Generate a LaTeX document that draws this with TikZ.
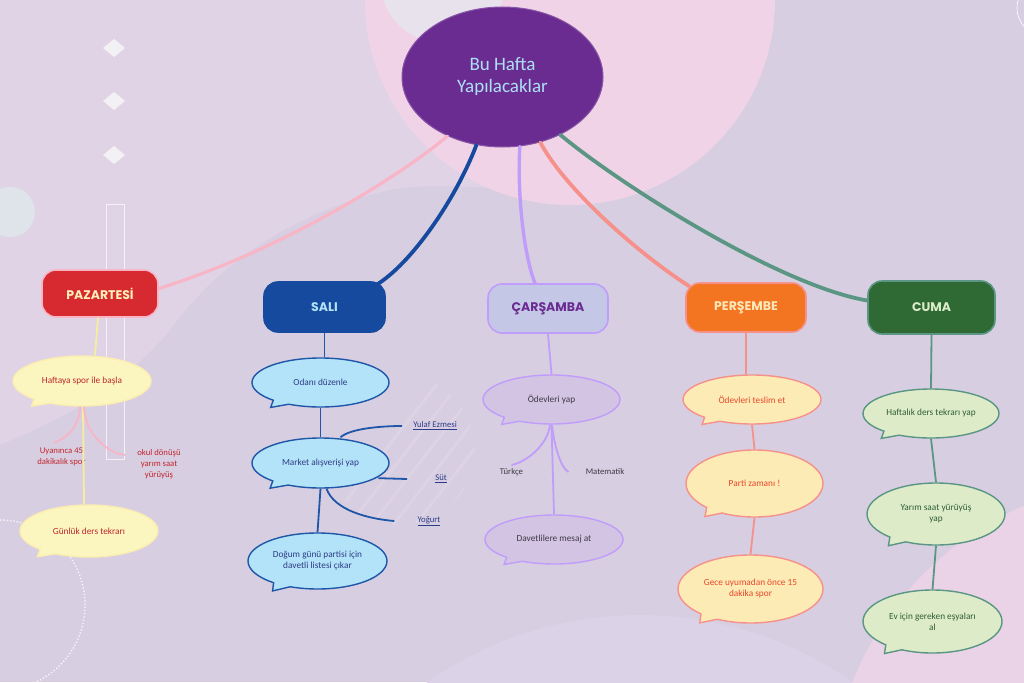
\documentclass[tikz,border=0pt]{standalone}
\usepackage{fontspec}
\setmainfont{Carlito}
\newfontfamily\dayfont{Poppins}
\usetikzlibrary{shapes.callouts,shapes.geometric}
\definecolor{bgbase}{HTML}{D8CEE1}
\definecolor{bglight}{HTML}{E0D3E6}
\definecolor{bgpink}{HTML}{F1D3E7}
\definecolor{bgpink2}{HTML}{EBD3E7}
\definecolor{bgwhite}{HTML}{E8E2EC}
\definecolor{bglow}{HTML}{DCD2E7}
\definecolor{bgteal}{HTML}{DEE4EA}
\definecolor{deco}{HTML}{F4F1F5}
\definecolor{cpurple}{HTML}{6A2C91}
\definecolor{ctitle}{HTML}{AEE0F5}
\definecolor{pzfill}{HTML}{D62A30}
\definecolor{pzline}{HTML}{F7B5C6}
\definecolor{pztext}{HTML}{FCEFB8}
\definecolor{pzbub}{HTML}{FBF6BF}
\definecolor{pzyel}{HTML}{F6EE9C}
\definecolor{pzred}{HTML}{C0262D}
\definecolor{slfill}{HTML}{164A9E}
\definecolor{sltext}{HTML}{B4E3F8}
\definecolor{slbub}{HTML}{B3E3F8}
\definecolor{slline}{HTML}{1E56A8}
\definecolor{slink}{HTML}{2D3C88}
\definecolor{crfill}{HTML}{C5C7E6}
\definecolor{crline}{HTML}{C09CFB}
\definecolor{crbub}{HTML}{D3C4E3}
\definecolor{crink}{HTML}{3E3A46}
\definecolor{crtext}{HTML}{6A2C91}
\definecolor{psfill}{HTML}{F37421}
\definecolor{psline}{HTML}{F5918A}
\definecolor{pstext}{HTML}{FCE8B8}
\definecolor{psbub}{HTML}{FDEBB6}
\definecolor{psink}{HTML}{E8472A}
\definecolor{cmfill}{HTML}{2F6A35}
\definecolor{cmline}{HTML}{5A9683}
\definecolor{cmtext}{HTML}{DCEBC9}
\definecolor{cmbub}{HTML}{DDEBC9}
\definecolor{cmink}{HTML}{2F5E36}
\tikzset{
  title/.style={ellipse, fill=cpurple, draw=cpurple!80!white, line width=1pt,
    minimum width=201pt, minimum height=140pt, inner sep=0pt, align=center,
    text=ctitle, font=\fontsize{19}{22}\selectfont},
  daybox/.style={rectangle, rounded corners=14pt, minimum width=120pt, minimum height=49pt,
    line width=1.6pt, inner sep=0pt, font=\dayfont\bfseries\fontsize{12.5}{14}\selectfont},
  bub/.style={ellipse callout, minimum width=137pt, minimum height=49pt, inner sep=0pt,
    line width=1.4pt, align=center, font=\fontsize{9.3}{11}\selectfont,
    callout pointer arc=16, callout relative pointer={(-10pt,-5pt)}},
  tallbub/.style={callout relative pointer={(-9pt,-6pt)}},
  sub/.style={inner sep=2pt, align=center, font=\fontsize{8.7}{11}\selectfont},
  mainline/.style={line width=3.8pt, line cap=round},
  subline/.style={line width=1.8pt},
}
\begin{document}
\begin{tikzpicture}[x=1pt,y=-1pt]
\useasboundingbox (0,0) rectangle (1024,682);
% ---------- background ----------
\begin{scope}
\clip (0,0) rectangle (1024,682);
\fill[bgbase] (0,0) rectangle (1024,682);
\fill[bglight] (0,0) -- (620,0) -- (620,195) .. controls (520,192) and (440,180) .. (390,190)
  .. controls (300,210) and (220,260) .. (170,330) .. controls (120,390) and (60,420) .. (0,445)
  -- cycle;
\fill[bgpink] (570,0) circle (205pt);
\fill[bgwhite] (443,-20) circle (63pt);
\fill[bglow] (640,985) circle (370pt);
\fill[bgpink2] (1150,800) circle (320pt);
\fill[bgteal] (10,212) circle (25pt);
\draw[white, line width=0.6pt] (1045,8) circle (28pt);
\begin{scope}
\clip (400,450) circle (75pt);
\foreach \k in {0,...,9}{
  \draw[white, opacity=0.12, line width=3pt] (300+\k*22,560) -- (440+\k*22,380);
}
\end{scope}
\draw[white, dotted, line width=1.3pt, opacity=0.85] (0,605) circle (85pt);
\fill[deco] (114,39) -- (125,48) -- (114,57) -- (103,48) -- cycle;
\fill[deco] (114,92) -- (125,101) -- (114,110) -- (103,101) -- cycle;
\fill[deco] (114,146) -- (125,155) -- (114,164) -- (103,155) -- cycle;
\draw[white, opacity=0.7, line width=0.7pt] (106,204) rectangle (124,459);
\end{scope}
% ---------- nodes ----------
\node[title] (c) at (502.5,77) {Bu Hafta\\Yapılacaklar};

\node[daybox, fill=pzfill, draw=pzline, text=pztext, minimum width=116pt, minimum height=47pt] (paz) at (100,293.5) {PAZARTESİ};
\node[daybox, fill=slfill, draw=slfill, text=sltext, minimum width=121pt, minimum height=50pt] (sali) at (324.5,307) {SALI};
\node[daybox, fill=crfill, draw=crline, text=crtext, minimum width=120pt, minimum height=49pt] (car) at (548,308.5) {ÇARŞAMBA};
\node[daybox, fill=psfill, draw=psline, text=pstext, minimum width=120pt, minimum height=49pt] (per) at (746,307.5) {PERŞEMBE};
\node[daybox, fill=cmfill, draw=cmline, text=cmtext, minimum width=127pt, minimum height=53pt] (cuma) at (931.5,307.5) {CUMA};

% Pazartesi
\node[bub, fill=pzbub, draw=pzbub!92!orange, text=pzred, minimum width=138pt, minimum height=50pt] (haf) at (82,381) {Haftaya spor ile başla};
\node[bub, fill=pzbub, draw=pzbub!92!orange, text=pzred, minimum width=138pt, minimum height=52pt] (gun) at (89,531) {Günlük ders tekrarı};
\node[sub, text=pzred] (uy) at (61.5,457) {Uyanınca 45\\dakikalık spor};
\node[sub, text=pzred] (ok) at (159,464) {okul dönüşü\\yarım saat\\yürüyüş};

% Sali
\node[bub, fill=slbub, draw=slline, text=slink] (oda) at (320.5,382.5) {Odanı düzenle};
\node[bub, fill=slbub, draw=slline, text=slink, minimum height=50pt] (mkt) at (320.5,463) {Market alışverişi yap};
\node[bub, fill=slbub, draw=slline, text=slink, minimum width=139pt, minimum height=56pt, tallbub] (dog) at (317.5,561) {Doğum günü partisi için\\davetli listesi çıkar};
\node[sub, text=slink] (yulaf) at (435,426) {\underline{Yulaf Ezmesi}};
\node[sub, text=slink] (sut) at (441,479) {\underline{Süt}};
\node[sub, text=slink] (yog) at (429,521) {\underline{Yoğurt}};

% Carsamba
\node[bub, fill=crbub, draw=crline, text=crink] (ode) at (551.5,399.5) {Ödevleri yap};
\node[bub, fill=crbub, draw=crline, text=crink, minimum width=138pt] (dav) at (554,539.5) {Davetlilere mesaj at};
\node[sub, text=crink] (tur) at (511.5,472) {Türkçe};
\node[sub, text=crink] (mat) at (605,472) {Matematik};

% Persembe
\node[bub, fill=psbub, draw=psline, text=psink, minimum width=138pt] (tes) at (752,399.5) {Ödevleri teslim et};
\node[bub, fill=psbub, draw=psline, text=psink, minimum height=67pt, tallbub] (par) at (754.5,483.5) {\raisebox{-7pt}{Parti zamanı !}};
\node[bub, fill=psbub, draw=psline, text=psink, minimum width=145pt, minimum height=68pt, tallbub] (gec) at (750.5,589) {Gece uyumadan önce 15\\dakika spor};

% Cuma
\node[bub, fill=cmbub, draw=cmline, text=cmink, minimum width=136pt] (hft) at (931,413.5) {Haftalık ders tekrarı yap};
\node[bub, fill=cmbub, draw=cmline, text=cmink, minimum width=138pt, minimum height=62pt, tallbub] (yar) at (936,514) {Yarım saat yürüyüş\\yap};
\node[bub, fill=cmbub, draw=cmline, text=cmink, minimum width=139pt, minimum height=63pt, tallbub] (ev) at (932.5,621.5) {Ev için gereken eşyaları\\al};

% ---------- main connectors ----------
\draw[mainline, pzline, line width=3.2pt] (c.227) .. controls +(-47,40) and +(122,-38) .. ([yshift=5pt]paz.east);
\draw[mainline, slfill] (c.249) .. controls +(-21,55) and +(35,-21) .. ([xshift=-10pt,yshift=-4pt]sali.north east);
\draw[mainline, crline, line width=3.4pt] (c.284) .. controls +(-3,52) and +(-10,-24) .. ([xshift=-13pt]car.north);
\draw[mainline, psline] (c.300) .. controls +(25,47) and +(-50,-32) .. ([xshift=4pt,yshift=-4pt]per.north west);
\draw[mainline, cmline] (c.315) .. controls +(60,50) and +(-88,-15) .. ([yshift=7pt]cuma.west);

% ---------- sub connectors ----------
\draw[subline, pzyel] ([xshift=-2pt]paz.south) -- ([xshift=13pt]haf.north);
\draw[subline, pzyel] ([xshift=1pt]haf.south) -- ([xshift=-5pt]gun.north);
\draw[subline, pzline] ([xshift=-2pt]haf.south) .. controls +(0,18) and +(14,-4) .. ([xshift=-8pt,yshift=3pt]uy.north);
\draw[subline, pzline] ([xshift=2pt]haf.south) .. controls +(0,24) and +(-20,-2) .. ([xshift=-10pt,yshift=-8pt]ok.north west);

\draw[subline, slline] (sali.south) -- (sali.south |- oda.north);
\draw[subline, slline] (oda.south) -- (mkt.north);
\draw[subline, slline] (mkt.south) -- (dog.north);
\draw[subline, slline] ([xshift=20pt]mkt.north) .. controls +(10,-9) and +(-20,0) .. ([xshift=-9pt]yulaf.west);
\draw[subline, slline] ([xshift=9pt,yshift=3pt]mkt.south east) -- ([xshift=-26pt]sut.west);
\draw[subline, slline] ([xshift=6pt]mkt.south) .. controls +(8,22) and +(-25,-2) .. ([xshift=-21pt]yog.west);

\draw[subline, crline] (car.south) -- (ode.north);
\draw[subline, crline] (ode.south) -- (dav.north);
\draw[subline, crline] ([xshift=-1.5pt]ode.south) .. controls +(-2,20) and +(15,-3) .. ([yshift=1pt]tur.north);
\draw[subline, crline] ([xshift=0.5pt]ode.south) .. controls +(2,20) and +(-8,-4) .. ([xshift=-15pt]mat.west);

\draw[subline, psline] (per.south) -- (per.south |- tes.north);
\draw[subline, psline] (tes.south) -- (par.north);
\draw[subline, psline] (par.south) -- (gec.north);

\draw[subline, cmline] (cuma.south) -- (hft.north);
\draw[subline, cmline] (hft.south) -- (yar.north);
\draw[subline, cmline] (yar.south) -- (ev.north);
\end{tikzpicture}
\end{document}
